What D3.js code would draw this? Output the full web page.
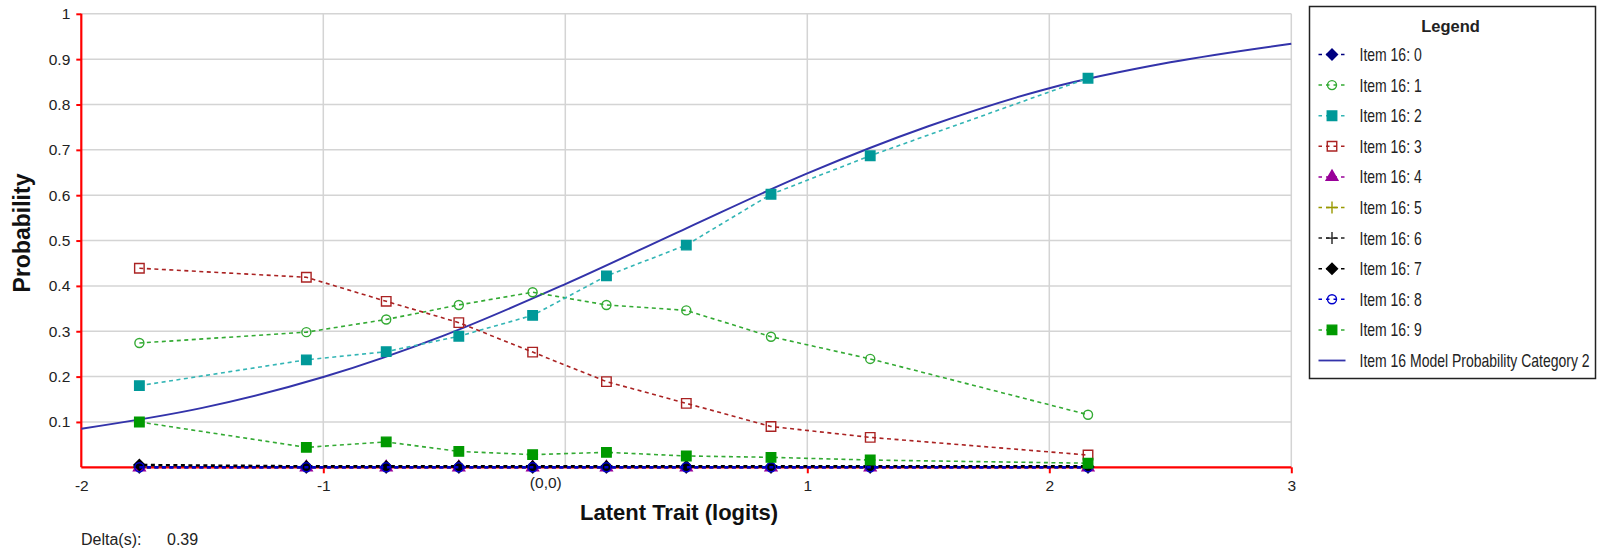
<!DOCTYPE html>
<html lang="en">
<head>
    <meta charset="UTF-8">
    <title>Item 16 category probability</title>
    <script src="https://d3js.org/d3.v7.min.js"></script>
    <style>
        body { margin: 0; background: #fff; }
        svg { display: block; }
    </style>
</head>
<body>
    <div id="chart"></div>

    <script>
        // observed points (logit positions) and category proportions
        const points = [-1.76, -1.07, -0.74, -0.44, -0.135, 0.17, 0.50, 0.85, 1.26, 2.16];
        const cat0 = [0, 0, 0, 0, 0, 0, 0, 0, 0, 0];
        const cat1 = [0.274, 0.298, 0.326, 0.358, 0.386, 0.358, 0.346, 0.288, 0.239, 0.116];
        const cat2 = [0.180, 0.237, 0.255, 0.289, 0.335, 0.422, 0.490, 0.602, 0.687, 0.858];
        const cat3 = [0.439, 0.419, 0.366, 0.319, 0.254, 0.189, 0.141, 0.090, 0.066, 0.027];
        const cat4 = [0, 0, 0, 0, 0, 0, 0, 0, 0, 0];
        const cat5 = [0, 0, 0, 0, 0, 0, 0, 0, 0, 0];
        const cat6 = [0, 0, 0, 0, 0, 0, 0, 0, 0, 0];
        const cat7 = [0.005, 0.002, 0.002, 0.002, 0.002, 0.002, 0.002, 0.002, 0.002, 0.002];
        const cat8 = [0, 0, 0, 0, 0, 0, 0, 0, 0, 0];
        const cat9 = [0.100, 0.044, 0.056, 0.035, 0.028, 0.033, 0.025, 0.022, 0.016, 0.009];

        // model curve
        const modelX = [-2, -1.5, -1, -0.5, 0, 0.5, 1, 1.5, 2, 2.5, 3];
        const modelP = [0.085, 0.131, 0.199, 0.291, 0.404, 0.527, 0.648, 0.752, 0.836, 0.893, 0.934];

        const xTicks = [-2, -1, 0, 1, 2, 3];
        const yTicks = [0.1, 0.2, 0.3, 0.4, 0.5, 0.6, 0.7, 0.8, 0.9, 1];
        const deltas = ["0.39"];

        const series = [
            { name: "Item 16: 0", values: cat0, line: "#000080", marker: "diamond", fill: "#000080", w: 2.6, off: 0 },
            { name: "Item 16: 1", values: cat1, line: "#33aa33", marker: "circle", fill: "none", w: 1.6, off: 0 },
            { name: "Item 16: 2", values: cat2, line: "#33b5b5", marker: "square", fill: "#009999", w: 1.6, off: 0 },
            { name: "Item 16: 3", values: cat3, line: "#aa2222", marker: "square", fill: "none", w: 1.6, off: 0 },
            { name: "Item 16: 4", values: cat4, line: "#990099", marker: "triangle", fill: "#990099", w: 1.6, off: 0 },
            { name: "Item 16: 5", values: cat5, line: "#999900", marker: "plus", fill: "none", w: 1.6, off: 0 },
            { name: "Item 16: 6", values: cat6, line: "#222222", marker: "plus", fill: "none", w: 1.6, off: 0 },
            { name: "Item 16: 7", values: cat7, line: "#000000", marker: "diamond", fill: "#000000", w: 2.6, off: 3.5 },
            { name: "Item 16: 8", values: cat8, line: "#0000cc", marker: "circle", fill: "none", w: 2.6, off: 0 },
            { name: "Item 16: 9", values: cat9, line: "#33aa33", marker: "square", fill: "#009900", w: 1.6, off: 0 }
        ];
        const markerStroke = ["#000080", "#33aa33", "#009999", "#aa2222", "#990099", "#999900", "#222222", "#000000", "#0000cc", "#009900"];

        const width = 1597;
        const height = 553;
        const margin = { top: 13.8, left: 81.3, right: 305.7, bottom: 85.7 };

        const svg = d3.select("#chart").append("svg")
            .attr("width", width)
            .attr("height", height);

        const x = d3.scaleLinear().domain([-2, 3]).range([margin.left, width - margin.right]);
        const y = d3.scaleLinear().domain([0, 1]).range([height - margin.bottom, margin.top]);

        // grid
        const grid = svg.append("g").attr("stroke", "#d4d4d4").attr("stroke-width", 1.5);
        grid.selectAll(".h").data(yTicks).enter().append("line")
            .attr("x1", x(-2)).attr("x2", x(3))
            .attr("y1", d => y(d)).attr("y2", d => y(d));
        grid.selectAll(".v").data(xTicks.slice(1)).enter().append("line")
            .attr("x1", d => x(d)).attr("x2", d => x(d))
            .attr("y1", y(1)).attr("y2", y(0));

        // axes
        const yAxis = svg.append("g")
            .attr("transform", "translate(" + margin.left + ",0)")
            .call(d3.axisLeft(y).tickValues(yTicks).tickSize(5).tickPadding(6).tickFormat(d3.format("")));
        const xAxis = svg.append("g")
            .attr("transform", "translate(0," + y(0) + ")")
            .call(d3.axisBottom(x).tickValues(xTicks).tickSize(6).tickPadding(6.5)
                .tickFormat(d => d === 0 ? "(0,0)" : d));

        [yAxis, xAxis].forEach(a => {
            a.select(".domain").attr("stroke", "#ff0000").attr("stroke-width", 2.2);
            a.selectAll(".tick line").attr("stroke", "#ff0000").attr("stroke-width", 2);
            a.selectAll(".tick text")
                .attr("fill", "#222")
                .style("font-family", "'Liberation Sans', Arial, sans-serif")
                .style("font-size", "15.5px");
        });
        yAxis.select(".domain").attr("d", "M0," + y(1) + "V" + y(0));
        xAxis.select(".domain").attr("d", "M" + x(-2) + ",0H" + x(3));
        xAxis.selectAll(".tick").filter(d => d === 0 || d === -2).select("line").remove();
        xAxis.selectAll(".tick").filter(d => d === 0).select("text").attr("x", -20).attr("y", 10);

        // model curve
        const modelLine = d3.line()
            .x((d, i) => x(modelX[i]))
            .y(d => y(d))
            .curve(d3.curveMonotoneX);
        svg.append("path")
            .attr("d", modelLine(modelP))
            .attr("fill", "none")
            .attr("stroke", "#3333aa")
            .attr("stroke-width", 2);

        // markers
        const symbols = {
            diamond: "M0,-5.5L5.5,0L0,5.5L-5.5,0Z",
            circle: d3.symbol().type(d3.symbolCircle).size(64)(),
            square: d3.symbol().type(d3.symbolSquare).size(90)(),
            triangle: d3.symbol().type(d3.symbolTriangle).size(60)(),
            plus: "M-6,0H6M0,-6V6"
        };

        const line = d3.line()
            .x((d, i) => x(points[i]))
            .y(d => y(d));

        series.forEach((s, k) => {
            const g = svg.append("g");
            g.append("path")
                .attr("d", line(s.values))
                .attr("fill", "none")
                .attr("stroke", s.line)
                .attr("stroke-width", s.w)
                .attr("stroke-dasharray", "4,3.5")
                .attr("stroke-dashoffset", s.off);
            g.selectAll("path.m").data(s.values).enter().append("path")
                .attr("class", "m")
                .attr("transform", (d, i) => "translate(" + x(points[i]) + "," + y(d) + ")")
                .attr("d", symbols[s.marker])
                .attr("fill", s.fill)
                .attr("stroke", markerStroke[k])
                .attr("stroke-width", 1.4);
        });

        // axis titles
        svg.append("text")
            .attr("x", x(0.47))
            .attr("y", 520)
            .attr("text-anchor", "middle")
            .style("font-family", "'Liberation Sans', Arial, sans-serif")
            .style("font-size", "22px")
            .style("font-weight", "bold")
            .attr("fill", "#111")
            .text("Latent Trait (logits)");

        svg.append("text")
            .attr("transform", "translate(30,233) rotate(-90)")
            .attr("text-anchor", "middle")
            .style("font-family", "'Liberation Sans', Arial, sans-serif")
            .style("font-size", "23px")
            .style("font-weight", "bold")
            .attr("fill", "#111")
            .text("Probability");

        // delta
        const foot = svg.append("g")
            .style("font-family", "'Liberation Sans', Arial, sans-serif")
            .style("font-size", "16px")
            .attr("fill", "#222");
        foot.append("text").attr("x", 81).attr("y", 545).text("Delta(s):");
        foot.append("text").attr("x", 167).attr("y", 545).text(deltas.join(", "));

        // legend
        const legend = svg.append("g").attr("transform", "translate(1309.5,6.5)");
        legend.append("rect")
            .attr("width", 286).attr("height", 372)
            .attr("fill", "#fff")
            .attr("stroke", "#222")
            .attr("stroke-width", 1.5);
        legend.append("text")
            .attr("x", 141).attr("y", 25)
            .attr("text-anchor", "middle")
            .style("font-family", "'Liberation Sans', Arial, sans-serif")
            .style("font-size", "16.5px")
            .style("font-weight", "bold")
            .attr("fill", "#222")
            .text("Legend");

        const entries = series.map((s, k) => Object.assign({ k: k }, s))
            .concat([{ name: "Item 16 Model Probability Category 2", line: "#3333aa", model: true }]);

        const rows = legend.selectAll(".row").data(entries).enter().append("g")
            .attr("class", "row")
            .attr("transform", (d, i) => "translate(0," + (48 + i * 30.6) + ")");

        rows.append("line")
            .attr("x1", 9).attr("x2", 36)
            .attr("stroke", d => d.line)
            .attr("stroke-width", d => d.model ? 1.8 : 1.5)
            .attr("stroke-dasharray", d => d.model ? null : "3.5,4");
        rows.filter(d => !d.model).append("path")
            .attr("transform", "translate(22.5,0)")
            .attr("d", d => symbols[d.marker])
            .attr("fill", d => d.fill)
            .attr("stroke", d => markerStroke[d.k])
            .attr("stroke-width", 1.4);
        // the reference font is tall and narrow: squeeze Liberation Sans horizontally
        rows.append("text")
            .attr("transform", "translate(50,6.5) scale(0.8,1)")
            .style("font-family", "'Liberation Sans', Arial, sans-serif")
            .style("font-size", "17.5px")
            .attr("fill", "#222")
            .text(d => d.name);
    </script>
</body>
</html>
